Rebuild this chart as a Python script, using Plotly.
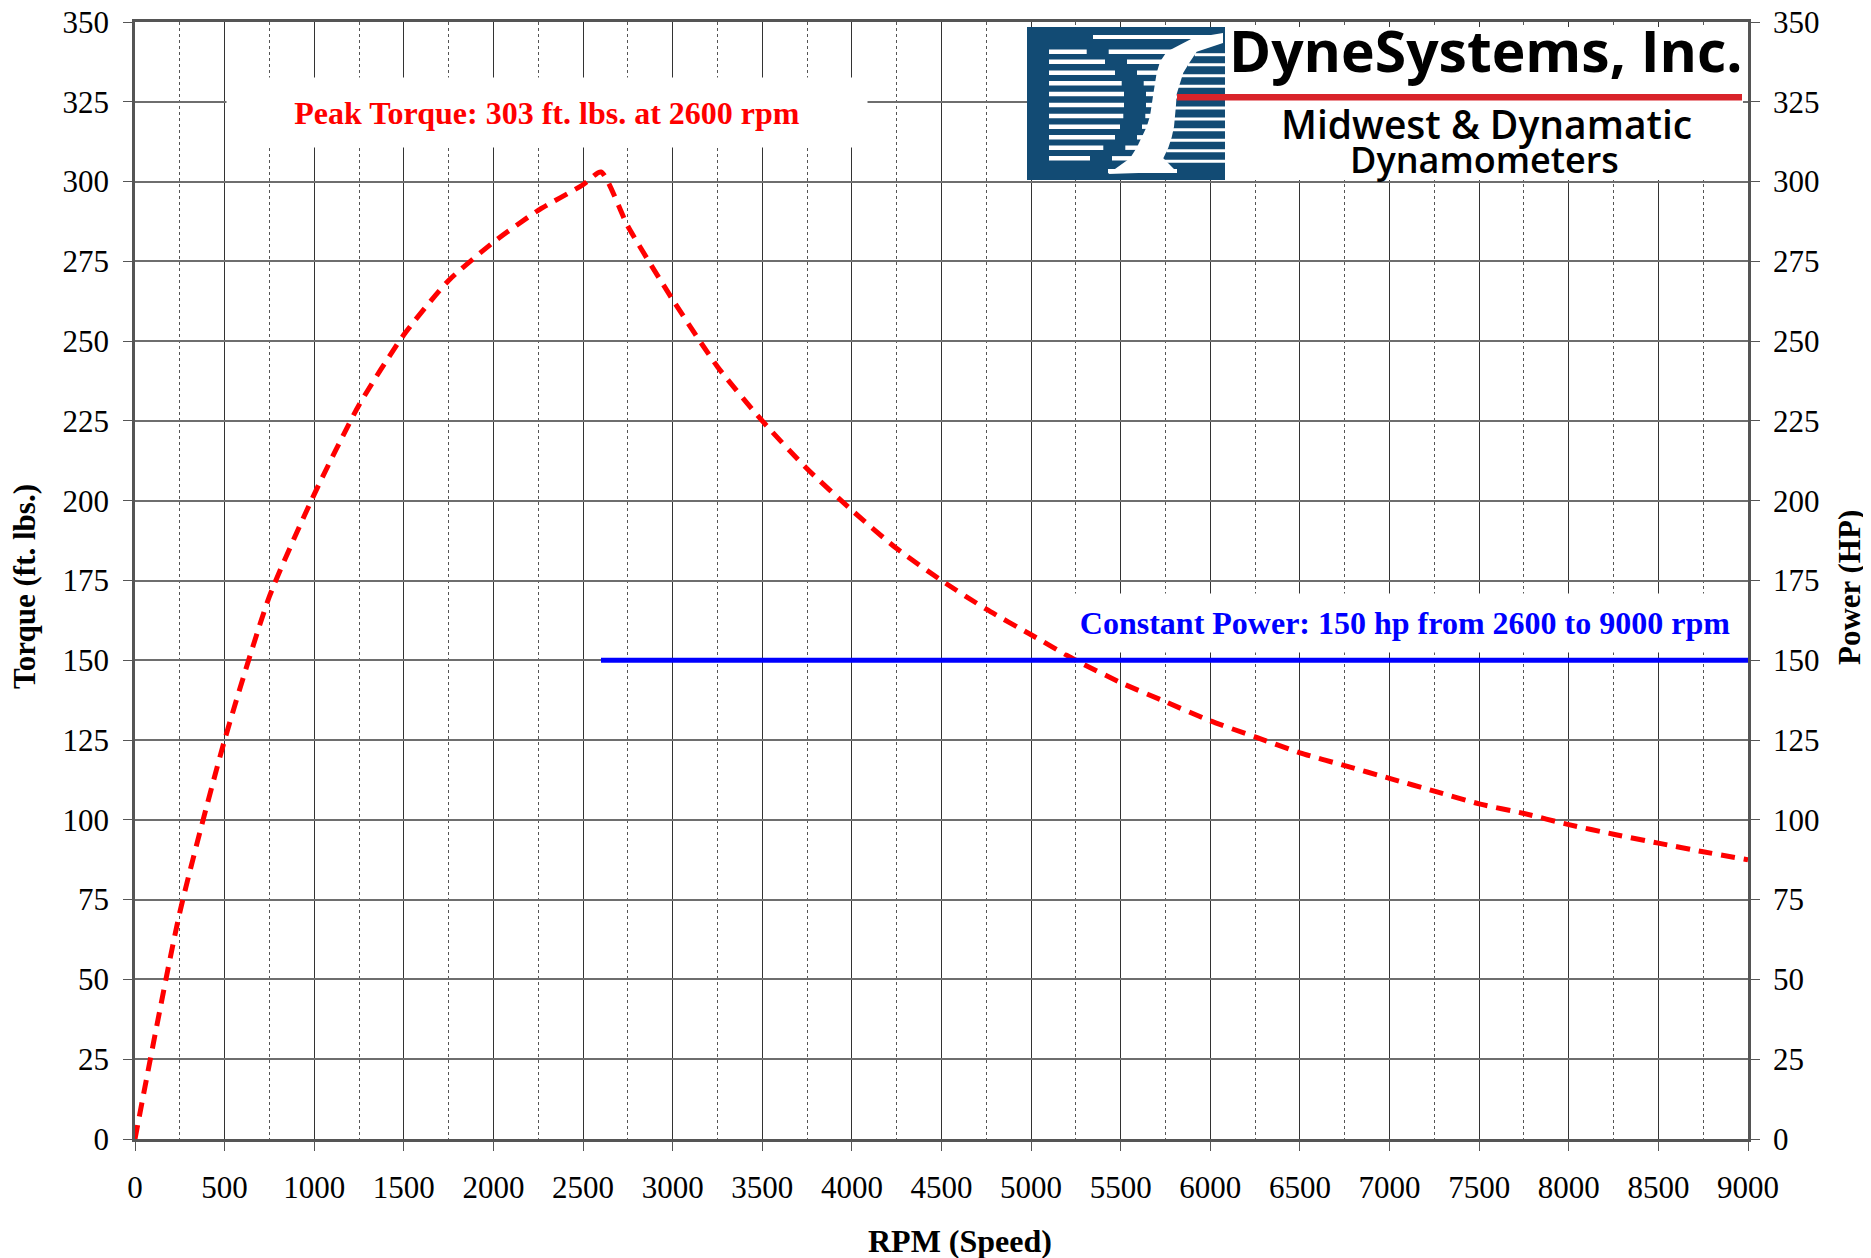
import plotly.graph_objects as go

# ---- data ----
rpm_torque = [0, 250, 500, 750, 1000, 1250, 1500, 1750, 2000, 2250, 2500, 2600,
              2750, 3000, 3250, 3500, 3750, 4000, 4250, 4500, 4750, 5000, 5250,
              5500, 5750, 6000, 6250, 6500, 6750, 7000, 7250, 7500, 7750, 8000,
              8250, 8500, 8750, 9000]
torque = [0, 71, 125, 170, 202, 230, 252, 269, 281, 291, 299, 303,
          286, 263, 242, 225, 210, 197, 185, 175, 166, 158, 150,
          143, 137, 131, 126, 121, 117, 113, 109, 105, 102, 98.5,
          95.5, 92.7, 90, 87.5]
rpm_power = [2600, 9000]
power = [150, 150]

x_ticks = list(range(0, 9001, 500))
y_ticks = list(range(0, 351, 25))

peak_label = "Peak Torque: 303 ft. lbs. at 2600 rpm"
power_label = "Constant Power: 150 hp from 2600 to 9000 rpm"

# ---- geometry (reference pixel coords -> paper) ----
OFF = 8                      # page body margin
W, H = 1871 - OFF, 1258 - OFF
PL, PR, PT, PB = 135, 1748, 22, 1139   # plot area in reference pixels


def px(x):
    return (x - PL) / (PR - PL)


def py(y):
    return (PB - y) / (PB - PT)


SERIF = "Liberation Serif, Times New Roman, serif"
LOGO_FONT = "Open Sans, Arial, sans-serif"
LOGO_BLUE = "#124b74"

fig = go.Figure()

fig.add_trace(go.Scatter(x=rpm_power, y=power, mode="lines", yaxis="y2",
                         line=dict(color="#0000ff", width=5),
                         showlegend=False, hoverinfo="skip"))
fig.add_trace(go.Scatter(x=rpm_torque, y=torque, mode="lines",
                         line=dict(color="#ff0000", width=5, dash="14px,9px",
                                   shape="spline", smoothing=0.6),
                         showlegend=False))

shapes = []
# logo background
shapes.append(dict(type="rect", xref="paper", yref="paper", layer="above",
                   x0=px(1225), x1=px(1743), y0=py(180), y1=py(27),
                   fillcolor="white", line=dict(width=0)))
shapes.append(dict(type="rect", xref="paper", yref="paper", layer="above",
                   x0=px(1027), x1=px(1225), y0=py(180), y1=py(27),
                   fillcolor=LOGO_BLUE, line=dict(width=0)))
# logo speed stripes
rows_y = [51.7, 61.7, 72.7, 83.3, 94, 105, 116, 126.7, 137.3, 147.7, 158.3]
left_end = [1086.7, 1105, 1115, 1121.7, 1124, 1124, 1123.3, 1120, 1115, 1103.3, 1090]
band_right = [1196.7, 1190, 1183.3, 1180, 1176.7, 1176, 1175, 1174, 1171.7, 1168.3, 1163.3]
for yy, le, br in zip(rows_y, left_end, band_right):
    shapes.append(dict(type="rect", xref="paper", yref="paper", layer="above",
                       x0=px(1049), x1=px(le), y0=py(yy + 2.2), y1=py(yy - 2.2),
                       fillcolor="white", line=dict(width=0)))
    shapes.append(dict(type="rect", xref="paper", yref="paper", layer="above",
                       x0=px(le + 22), x1=px(br - 20), y0=py(yy + 2.2), y1=py(yy - 2.2),
                       fillcolor="white", line=dict(width=0)))
    shapes.append(dict(type="rect", xref="paper", yref="paper", layer="above",
                       x0=px(br - 2), x1=px(1225), y0=py(yy + 4.5), y1=py(yy + 1.5),
                       fillcolor="white", line=dict(width=0)))
shapes.append(dict(type="rect", xref="paper", yref="paper", layer="above",
                   x0=px(1093), x1=px(1220), y0=py(39), y1=py(35),
                   fillcolor="white", line=dict(width=0)))
shapes.append(dict(type="rect", xref="paper", yref="paper", layer="above",
                   x0=px(1108), x1=px(1177), y0=py(173), y1=py(169),
                   fillcolor="white", line=dict(width=0)))
# white diagonal band
band_pts = [(1166.7, 51.7), (1193, 38), (1223, 33), (1223, 43), (1196.7, 51.7),
            (1190, 61.7), (1183.3, 72.7), (1180, 83.3), (1176.7, 94), (1176, 105),
            (1175, 116), (1174, 126.7), (1171.7, 137.3), (1168.3, 147.7),
            (1163.3, 158.3), (1176.7, 171.7), (1108, 174), (1130, 158.3),
            (1136.7, 147.7), (1141.7, 137.3), (1146.7, 126.7), (1150, 116),
            (1151.7, 105), (1153.3, 94), (1155, 83.3), (1156.7, 72.7), (1160, 61.7)]
path = "M " + " L ".join(f"{px(a):.5f},{py(b):.5f}" for a, b in band_pts) + " Z"
shapes.append(dict(type="path", xref="paper", yref="paper", layer="above",
                   path=path, fillcolor="white", line=dict(width=0)))
# red bar
shapes.append(dict(type="rect", xref="paper", yref="paper", layer="above",
                   x0=px(1177), x1=px(1742), y0=py(100.5), y1=py(94),
                   fillcolor="#d9232a", line=dict(width=0)))

annotations = [
    dict(text=f"<b>{peak_label}</b>", xref="paper", yref="paper",
         x=px(547), y=py(112.5), xanchor="center", yanchor="middle",
         showarrow=False, width=640, height=69, bgcolor="white", borderpad=0,
         font=dict(family=SERIF, size=32, color="#ff0000")),
    dict(text=f"<b>{power_label}</b>", xref="paper", yref="paper",
         x=px(1405), y=py(623), xanchor="center", yanchor="middle",
         showarrow=False, width=680, height=58, bgcolor="white", borderpad=0,
         font=dict(family=SERIF, size=32, color="#0000ff")),
    dict(text="<b>RPM (Speed)</b>", xref="paper", yref="paper",
         x=px(960), y=py(1241), xanchor="center", yanchor="middle",
         showarrow=False, font=dict(family=SERIF, size=32, color="black")),
    dict(text="<b>Torque (ft. lbs.)</b>", xref="paper", yref="paper",
         x=px(24), y=py(587), xanchor="center", yanchor="middle", textangle=-90,
         showarrow=False, font=dict(family=SERIF, size=31, color="black")),
    dict(text="<b>Power (HP)</b>", xref="paper", yref="paper",
         x=px(1849), y=py(588), xanchor="center", yanchor="middle", textangle=-90,
         showarrow=False, font=dict(family=SERIF, size=31, color="black")),
    dict(text="<b>DyneSystems, Inc.</b>", xref="paper", yref="paper",
         x=px(1486), y=py(50), xanchor="center", yanchor="middle",
         showarrow=False, font=dict(family=LOGO_FONT, size=57, color="black")),
    dict(text="Midwest &amp; Dynamatic", xref="paper", yref="paper",
         x=px(1486), y=py(123), xanchor="center", yanchor="middle",
         showarrow=False, font=dict(family=LOGO_FONT, size=39, color="black", weight=600)),
    dict(text="Dynamometers", xref="paper", yref="paper",
         x=px(1484), y=py(159), xanchor="center", yanchor="middle",
         showarrow=False, font=dict(family=LOGO_FONT, size=36, color="black", weight=600)),
]

axis_font = dict(family=SERIF, size=31, color="black")

fig.update_layout(
    width=W, height=H,
    margin=dict(l=PL - OFF, r=1871 - PR, t=PT - OFF, b=1258 - PB, autoexpand=False),
    paper_bgcolor="white", plot_bgcolor="white",
    showlegend=False,
    shapes=shapes, annotations=annotations,
    xaxis=dict(range=[0, 9000], tickvals=x_ticks, ticktext=[str(v) for v in x_ticks],
               showgrid=True, gridcolor="#333333", gridwidth=1,
               minor=dict(dtick=250, showgrid=True, griddash="dot",
                          gridcolor="#555555", gridwidth=1),
               ticks="outside", ticklen=9, tickcolor="#555555", tickwidth=1,
               ticklabelstandoff=10, automargin=False, ticklabeloverflow="allow",
               showline=True, linecolor="#555555", linewidth=2.5, mirror=True,
               tickfont=axis_font, zeroline=False, fixedrange=True),
    yaxis=dict(range=[0, 350], tickvals=y_ticks, ticktext=[str(v) for v in y_ticks],
               showgrid=True, gridcolor="#6e6e6e", gridwidth=1.5,
               ticks="outside", ticklen=9, tickcolor="#555555", tickwidth=1,
               ticklabelstandoff=8, automargin=False, ticklabeloverflow="allow",
               showline=True, linecolor="#555555", linewidth=2.5,
               tickfont=axis_font, zeroline=False, fixedrange=True),
    yaxis2=dict(range=[0, 350], tickvals=y_ticks, ticktext=[str(v) for v in y_ticks],
                overlaying="y", side="right", showgrid=False,
                ticks="outside", ticklen=9, tickcolor="#555555", tickwidth=1,
                ticklabelstandoff=7, automargin=False, ticklabeloverflow="allow",
                showline=True, linecolor="#555555", linewidth=2.5,
                tickfont=axis_font, zeroline=False, fixedrange=True),
)

fig.write_html("out.html")
